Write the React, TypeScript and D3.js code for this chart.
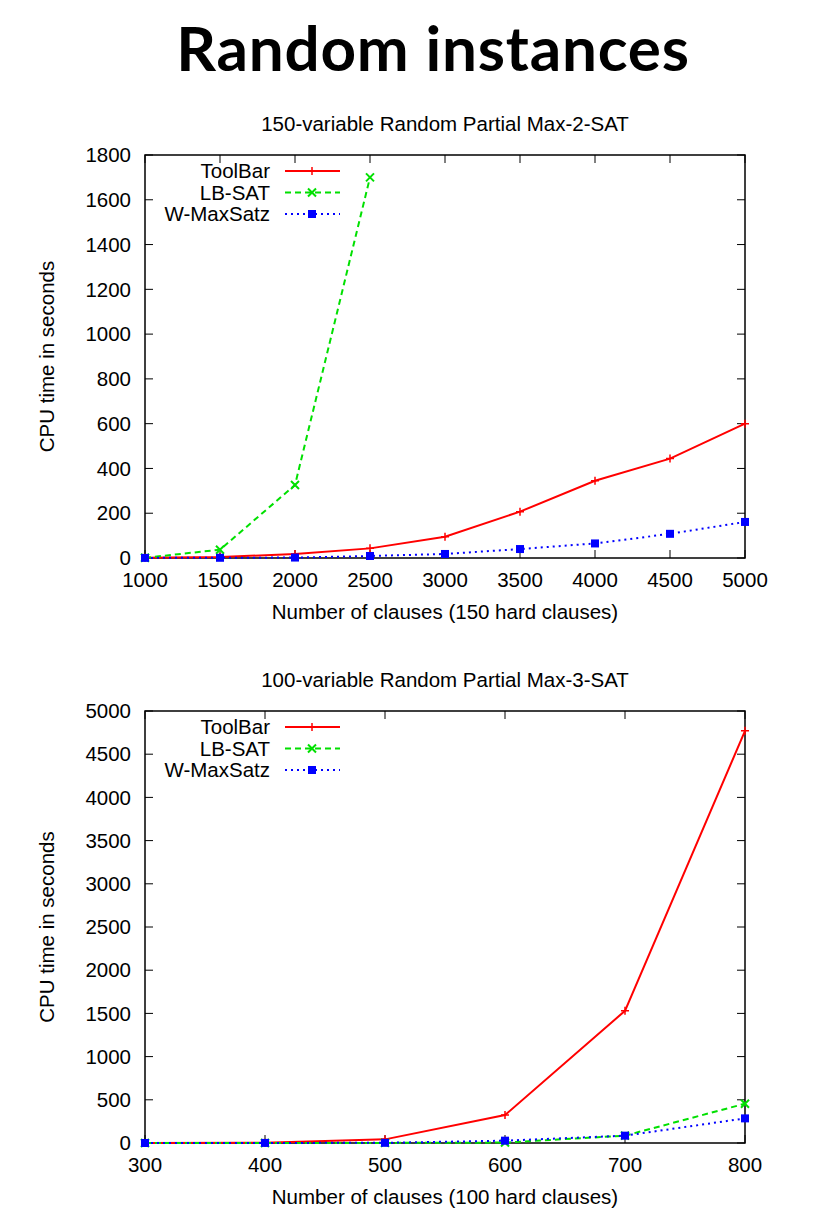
import React from 'react';
import * as d3 from 'd3';

const seriesNames = ['ToolBar', 'LB-SAT', 'W-MaxSatz'];

// top panel: 150-variable Max-2-SAT
const clauses2 = [1000, 1500, 2000, 2500, 3000, 3500, 4000, 4500, 5000];
const toolbar2 = [1, 4, 18, 43, 95, 207, 345, 444, 600];
const lbsat2 = [1, 37, 326, 1700];
const wmaxsatz2 = [0.5, 1, 2, 9, 18, 40, 65, 108, 161];
const xTicks2 = [1000, 1500, 2000, 2500, 3000, 3500, 4000, 4500, 5000];
const yTicks2 = [0, 200, 400, 600, 800, 1000, 1200, 1400, 1600, 1800];

// bottom panel: 100-variable Max-3-SAT
const clauses3 = [300, 400, 500, 600, 700, 800];
const toolbar3 = [0, 2, 42, 323, 1530, 4770];
const lbsat3 = [0, 0, 1, 5, 85, 455];
const wmaxsatz3 = [0, 1, 2, 27, 85, 285];
const xTicks3 = [300, 400, 500, 600, 700, 800];
const yTicks3 = [0, 500, 1000, 1500, 2000, 2500, 3000, 3500, 4000, 4500, 5000];

const colors = ['#ff0000', '#00e000', '#0000ff'];
const dashes = ['none', '6,4', '2,4'];
const font = '"Liberation Sans", Arial, sans-serif';
const fs = 20.5;

const Marker = ({ kind, x, y, color }: any) => {
  const s = 4;
  if (kind === 0)
    return (
      <path d={`M${x - s},${y}H${x + s}M${x},${y - s}V${y + s}`} stroke={color} strokeWidth={1.5} />
    );
  if (kind === 1)
    return (
      <path d={`M${x - s},${y - s}L${x + s},${y + s}M${x - s},${y + s}L${x + s},${y - s}`} stroke={color} strokeWidth={2} />
    );
  return <rect x={x - s} y={y - s} width={2 * s} height={2 * s} fill={color} />;
};

const Panel = ({ top, title, xLabel, xs, ys, xTicks, yTicks, xMin, xMax, yMax }: any) => {
  const left = 145;
  const right = 745;
  const plotTop = top;
  const plotBottom = top + (yMax === 1800 ? 403 : 432);
  const x = d3.scaleLinear().domain([xMin, xMax]).range([left, right]);
  const y = d3.scaleLinear().domain([0, yMax]).range([plotBottom, plotTop]);
  const tick = 8;
  return (
    <g fontFamily={font} fontSize={fs}>
      <text x={445} y={plotTop - 24} textAnchor="middle">
        {title}
      </text>
      <rect x={left} y={plotTop} width={right - left} height={plotBottom - plotTop} fill="none" stroke="#000" strokeWidth={1.5} />
      {yTicks.map((t: number) => (
        <g key={'y' + t}>
          <path d={`M${left},${y(t)}h${tick}M${right},${y(t)}h${-tick}`} stroke="#000" strokeWidth={1} />
          <text x={left - 14} y={y(t)} dy="0.35em" textAnchor="end">
            {t}
          </text>
        </g>
      ))}
      {xTicks.map((t: number) => (
        <g key={'x' + t}>
          <path d={`M${x(t)},${plotBottom}v${-tick}M${x(t)},${plotTop}v${tick}`} stroke="#000" strokeWidth={1} />
          <text x={x(t)} y={plotBottom + 29} textAnchor="middle">
            {t}
          </text>
        </g>
      ))}
      <text x={445} y={plotBottom + 61} textAnchor="middle">
        {xLabel}
      </text>
      <text transform={`translate(54,${(plotTop + plotBottom) / 2}) rotate(-90)`} textAnchor="middle">
        CPU time in seconds
      </text>
      {ys.map((vals: number[], i: number) => {
        const pts: [number, number][] = vals.map((v, j) => [x(xs[j]), y(v)]);
        const line = d3.line();
        return (
          <g key={i}>
            <path d={line(pts) || ''} fill="none" stroke={colors[i]} strokeWidth={2} strokeDasharray={dashes[i]} />
            {pts.map((p, j) => (
              <Marker key={j} kind={i} x={p[0]} y={p[1]} color={colors[i]} />
            ))}
          </g>
        );
      })}
      {seriesNames.map((n, i) => {
        const ly = plotTop + 16 + i * 21.5;
        return (
          <g key={n}>
            <text x={270} y={ly} dy="0.35em" textAnchor="end">
              {n}
            </text>
            <path d={`M285,${ly}H340`} stroke={colors[i]} strokeWidth={2} strokeDasharray={dashes[i]} />
            <Marker kind={i} x={312} y={ly} color={colors[i]} />
          </g>
        );
      })}
    </g>
  );
};

const App = () => (
  <svg width={814} height={1209} style={{ position: 'absolute', left: 0, top: 0, background: '#fff' }}>
    <text x={433} y={71} textAnchor="middle" fontSize={62} fontWeight="bold" letterSpacing={0.8} fontFamily='Lato, "Open Sans", sans-serif'>
      Random instances
    </text>
    <Panel
      top={155}
      title="150-variable Random Partial Max-2-SAT"
      xLabel="Number of clauses (150 hard clauses)"
      xs={clauses2}
      ys={[toolbar2, lbsat2, wmaxsatz2]}
      xTicks={xTicks2}
      yTicks={yTicks2}
      xMin={1000}
      xMax={5000}
      yMax={1800}
    />
    <Panel
      top={711}
      title="100-variable Random Partial Max-3-SAT"
      xLabel="Number of clauses (100 hard clauses)"
      xs={clauses3}
      ys={[toolbar3, lbsat3, wmaxsatz3]}
      xTicks={xTicks3}
      yTicks={yTicks3}
      xMin={300}
      xMax={800}
      yMax={5000}
    />
  </svg>
);

export default App;
